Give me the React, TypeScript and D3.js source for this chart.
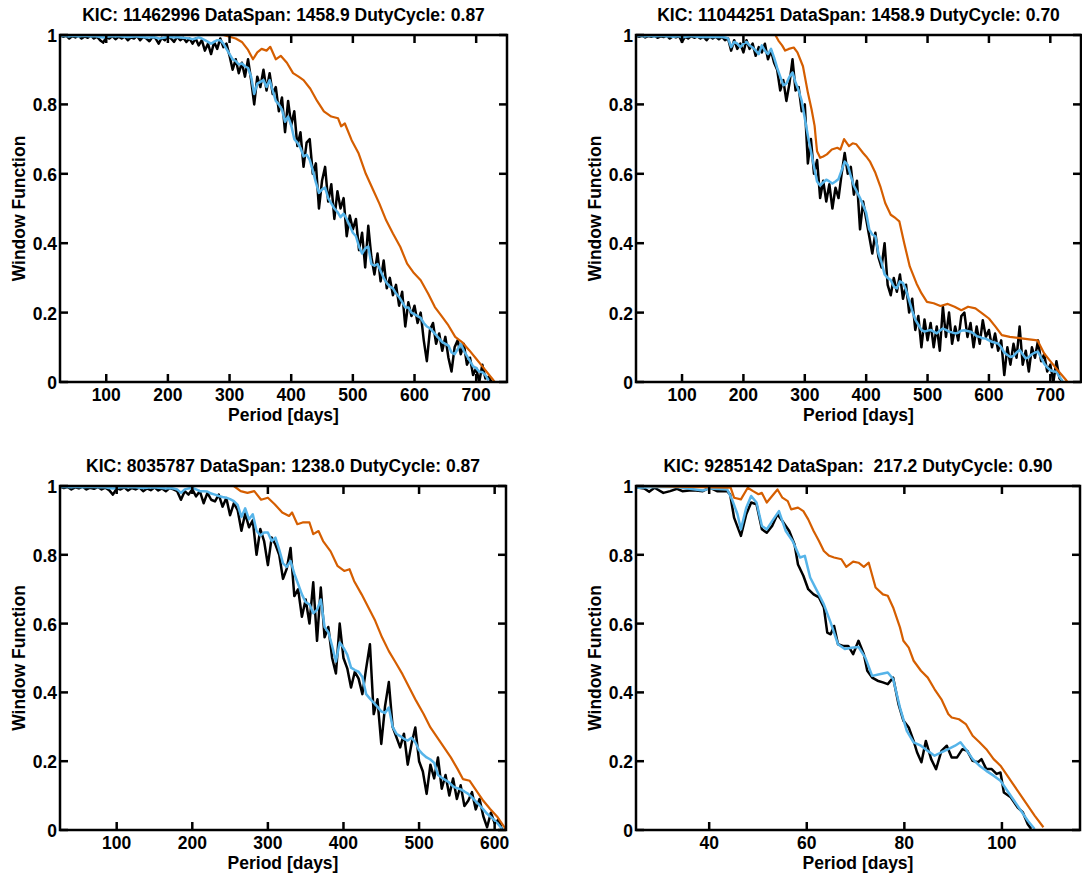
import React from "react";
import * as d3 from "d3";

type Pt = [number, number];

const FONT = "'Liberation Sans', Arial, Helvetica, sans-serif";
const BLACK = "#000000";
const BLUE = "#56B4E9";
const ORANGE = "#D55E00";

const titles = [
  "KIC: 11462996 DataSpan: 1458.9 DutyCycle: 0.87",
  "KIC: 11044251 DataSpan: 1458.9 DutyCycle: 0.70",
  "KIC: 8035787 DataSpan: 1238.0 DutyCycle: 0.87",
  "KIC: 9285142 DataSpan:  217.2 DutyCycle: 0.90",
];
const xDomains: Pt[] = [
  [25, 750],
  [25, 750],
  [25, 615],
  [25, 116],
];
const xTickSets = [
  [100, 200, 300, 400, 500, 600, 700],
  [100, 200, 300, 400, 500, 600, 700],
  [100, 200, 300, 400, 500, 600],
  [40, 60, 80, 100],
];
const yTicks = [0, 0.2, 0.4, 0.6, 0.8, 1];
const yTickLabels = ["0", "0.2", "0.4", "0.6", "0.8", "1"];
const xLabel = "Period [days]";
const yLabel = "Window Function";

// black / blue curves of the three long panels are sampled every 5 days from 25 d
const gridStart = 25;
const gridStep = 5;

// ---- KIC 11462996
const p1Black = [
  1.0, 0.995, 0.998, 0.99, 0.997, 0.993, 0.998, 0.99, 0.996, 0.992,
  0.998, 0.99, 0.995, 0.985, 0.978, 0.993, 0.99, 0.997, 0.988, 0.995,
  0.99, 0.996, 0.985, 0.993, 0.99, 0.997, 0.985, 0.995, 0.99, 0.982,
  0.995, 0.99, 0.975, 0.992, 0.985, 0.997, 0.99, 0.98, 0.995, 0.985,
  0.992, 0.98, 0.99, 0.975, 0.99, 0.97, 0.985, 0.955, 0.975, 0.945,
  0.98, 0.96, 0.99, 0.965, 0.975, 0.94, 0.9, 0.93, 0.89, 0.92,
  0.88, 0.93, 0.87, 0.8, 0.88, 0.85, 0.9, 0.84, 0.89, 0.83,
  0.85, 0.78, 0.82, 0.72, 0.81, 0.74, 0.78, 0.68, 0.72, 0.62,
  0.69, 0.7, 0.6, 0.63, 0.5, 0.58, 0.62, 0.52, 0.57, 0.47,
  0.55, 0.5, 0.53, 0.42, 0.48, 0.44, 0.47, 0.38, 0.43, 0.33,
  0.45, 0.36, 0.31, 0.37, 0.29, 0.35, 0.27, 0.3, 0.25, 0.28,
  0.22, 0.26, 0.16, 0.23, 0.19, 0.22, 0.17, 0.2, 0.12, 0.06,
  0.15, 0.17, 0.11, 0.14, 0.09, 0.13, 0.07, 0.03, 0.1, 0.12,
  0.08, 0.11, 0.05, 0.07, 0.02, 0.04, 0.0, 0.05, 0.01, 0.015,
  0.0,
];
const p1Blue = [
  0.997, 0.998, 0.997, 0.996, 0.998, 0.997, 0.996, 0.997, 0.998, 0.997,
  0.996, 0.997, 0.996, 0.994, 0.993, 0.995, 0.996, 0.997, 0.996, 0.997,
  0.996, 0.995, 0.994, 0.995, 0.996, 0.996, 0.995, 0.994, 0.993, 0.993,
  0.994, 0.993, 0.99, 0.991, 0.993, 0.995, 0.994, 0.993, 0.994, 0.993,
  0.992, 0.991, 0.99, 0.988, 0.99, 0.993, 0.99, 0.985, 0.98, 0.975,
  0.98, 0.985, 0.985, 0.975, 0.96, 0.945, 0.93, 0.925, 0.915, 0.918,
  0.91, 0.905, 0.88, 0.83, 0.86, 0.865, 0.87, 0.85, 0.87, 0.84,
  0.81, 0.8, 0.785, 0.75, 0.765, 0.74, 0.7, 0.69, 0.675, 0.65,
  0.655, 0.64, 0.61, 0.575, 0.545, 0.555, 0.56, 0.53, 0.515, 0.5,
  0.49, 0.475, 0.485, 0.47, 0.45, 0.43, 0.42, 0.39, 0.37, 0.385,
  0.39, 0.34, 0.335, 0.34, 0.32, 0.3, 0.285, 0.275, 0.27, 0.255,
  0.245, 0.23, 0.215, 0.215, 0.2, 0.195, 0.19, 0.185, 0.17, 0.16,
  0.155, 0.145, 0.135, 0.125, 0.115, 0.11, 0.105, 0.085, 0.08, 0.095,
  0.11, 0.09, 0.075, 0.06, 0.045, 0.04, 0.03, 0.028, 0.02, 0.005,
];
const p1Orange: Pt[] = [
  [25, 1], [290, 1], [300, 0.995], [310, 0.99], [320, 0.98], [330, 0.957],
  [338, 0.93], [345, 0.95], [352, 0.96], [360, 0.955], [366, 0.966], [375, 0.93],
  [383, 0.94], [393, 0.92], [403, 0.89], [412, 0.88], [420, 0.87], [431, 0.845],
  [442, 0.81], [453, 0.78], [465, 0.765], [476, 0.76], [481, 0.737], [487, 0.745],
  [498, 0.697], [509, 0.66], [521, 0.6], [532, 0.557], [543, 0.514], [554, 0.466],
  [565, 0.428], [577, 0.389], [588, 0.341], [599, 0.314], [610, 0.293], [622, 0.255],
  [633, 0.216], [644, 0.19], [655, 0.163], [666, 0.13], [677, 0.115], [689, 0.091],
  [700, 0.067], [711, 0.043], [728, 0.005], [730, 0],
];

// ---- KIC 11044251
const p2Black = [
  0.998, 0.995, 0.998, 0.993, 0.997, 0.995, 0.998, 0.992, 0.996, 0.994,
  0.998, 0.99, 0.996, 0.993, 0.997, 0.98, 0.995, 0.99, 0.997, 0.992,
  0.996, 0.99, 0.995, 0.985, 0.996, 0.99, 0.995, 0.988, 0.995, 0.985,
  0.99, 0.955, 0.985, 0.96, 0.975, 0.95, 0.985, 0.96, 0.975, 0.94,
  0.965, 0.95, 0.975, 0.93, 0.955, 0.92, 0.9, 0.84, 0.87, 0.81,
  0.86, 0.93, 0.84, 0.85, 0.78, 0.8, 0.63, 0.7, 0.6, 0.64,
  0.53, 0.58, 0.52, 0.57, 0.5, 0.56, 0.53, 0.6, 0.66, 0.6,
  0.62, 0.54, 0.58, 0.44, 0.52, 0.47, 0.42, 0.37, 0.43, 0.36,
  0.33, 0.4, 0.28, 0.25, 0.3, 0.26, 0.31, 0.24, 0.28, 0.2,
  0.24, 0.15, 0.19, 0.1, 0.18, 0.12, 0.17, 0.1, 0.16, 0.09,
  0.217, 0.13, 0.2, 0.11, 0.16, 0.12, 0.19, 0.2, 0.13, 0.17,
  0.1, 0.16, 0.11, 0.178, 0.13, 0.15, 0.1, 0.14, 0.09, 0.12,
  0.02, 0.1, 0.05, 0.11, 0.07, 0.16, 0.05, 0.09, 0.03, 0.1,
  0.07, 0.12, 0.06, 0.08, 0.03, 0.05, 0.0, 0.06, 0.01, 0.0,
];
const p2Blue = [
  0.997, 0.998, 0.997, 0.996, 0.998, 0.997, 0.996, 0.997, 0.998, 0.997,
  0.996, 0.997, 0.995, 0.996, 0.997, 0.993, 0.995, 0.996, 0.997, 0.996,
  0.995, 0.994, 0.995, 0.994, 0.995, 0.994, 0.995, 0.994, 0.994, 0.993,
  0.99, 0.965, 0.98, 0.975, 0.965, 0.975, 0.98, 0.97, 0.964, 0.955,
  0.945, 0.97, 0.955, 0.945, 0.96, 0.935, 0.905, 0.88, 0.855, 0.86,
  0.88, 0.892, 0.863, 0.84, 0.81, 0.76, 0.71, 0.665, 0.62, 0.578,
  0.566, 0.575, 0.583, 0.578, 0.572, 0.578, 0.585, 0.61, 0.635, 0.625,
  0.593, 0.565, 0.548, 0.53, 0.51, 0.488, 0.44, 0.425, 0.42, 0.37,
  0.345, 0.31, 0.3, 0.294, 0.275, 0.27, 0.29, 0.285, 0.265, 0.235,
  0.205, 0.18, 0.165, 0.15, 0.145, 0.148, 0.15, 0.145, 0.14, 0.148,
  0.154, 0.15, 0.145, 0.143, 0.14, 0.142, 0.148, 0.149, 0.147, 0.145,
  0.14, 0.132, 0.13, 0.126, 0.125, 0.12, 0.116, 0.113, 0.111, 0.1,
  0.085, 0.078, 0.072, 0.075, 0.085, 0.092, 0.08, 0.068, 0.072, 0.08,
  0.085, 0.087, 0.07, 0.053, 0.042, 0.034, 0.031, 0.029, 0.015, 0.003,
];
const p2Orange: Pt[] = [
  [25, 1], [252, 1], [257, 0.984], [263, 0.97], [268, 0.955], [274, 0.96],
  [282, 0.964], [288, 0.95], [297, 0.91], [305, 0.834], [311, 0.786], [316, 0.738],
  [318, 0.7], [320, 0.665], [325, 0.646], [330, 0.65], [336, 0.656], [344, 0.67],
  [353, 0.675], [358, 0.67], [364, 0.7], [372, 0.68], [378, 0.688], [384, 0.685],
  [395, 0.66], [400, 0.65], [406, 0.636], [415, 0.603], [423, 0.564], [431, 0.516],
  [440, 0.482], [448, 0.472], [454, 0.463], [462, 0.4], [471, 0.333], [482, 0.284],
  [490, 0.256], [499, 0.231], [510, 0.227], [521, 0.219], [533, 0.225], [544, 0.217],
  [555, 0.207], [566, 0.217], [578, 0.212], [589, 0.198], [600, 0.183], [611, 0.159],
  [621, 0.135], [634, 0.13], [656, 0.125], [679, 0.12], [690, 0.082], [701, 0.058],
  [712, 0.034], [726, 0.005], [728, 0],
];

// ---- KIC 8035787
const p3Black = [
  0.998, 0.994, 0.997, 0.99, 0.996, 0.993, 0.998, 0.99, 0.995, 0.992,
  0.997, 0.99, 0.995, 0.988, 0.975, 0.993, 0.99, 0.996, 0.987, 0.994,
  0.99, 0.996, 0.985, 0.993, 0.988, 0.996, 0.987, 0.993, 0.985, 0.994,
  0.99, 0.985, 0.96, 0.985, 0.975, 0.99, 0.97, 0.985, 0.95, 0.98,
  0.96, 0.955, 0.975, 0.94, 0.965, 0.915, 0.95, 0.93, 0.87, 0.92,
  0.88, 0.9, 0.8, 0.875, 0.84, 0.77, 0.85, 0.83, 0.8, 0.73,
  0.76, 0.82, 0.68, 0.7, 0.62, 0.67, 0.6, 0.72, 0.55, 0.705,
  0.56, 0.59, 0.5, 0.455, 0.6, 0.5, 0.47, 0.414, 0.46, 0.44,
  0.395, 0.47, 0.54, 0.337, 0.38, 0.25, 0.36, 0.43, 0.3, 0.27,
  0.24, 0.28, 0.19, 0.25, 0.298, 0.2, 0.17, 0.105, 0.19, 0.15,
  0.211, 0.12, 0.16, 0.1, 0.15, 0.09, 0.13, 0.07, 0.085, 0.11,
  0.06, 0.09, 0.04, 0.008, 0.05, 0.02, 0.03, 0.0,
];
const p3Blue = [
  0.997, 0.998, 0.997, 0.996, 0.998, 0.997, 0.996, 0.997, 0.998, 0.997,
  0.996, 0.997, 0.996, 0.994, 0.993, 0.995, 0.996, 0.997, 0.996, 0.997,
  0.996, 0.995, 0.994, 0.995, 0.996, 0.996, 0.995, 0.994, 0.993, 0.994,
  0.993, 0.99, 0.98, 0.99, 0.993, 0.995, 0.99, 0.985, 0.985, 0.984,
  0.978, 0.975, 0.971, 0.968, 0.966, 0.962, 0.956, 0.945, 0.91, 0.935,
  0.903, 0.918, 0.87, 0.856, 0.865, 0.865, 0.84, 0.85, 0.815, 0.775,
  0.765, 0.782, 0.745, 0.715, 0.685, 0.662, 0.656, 0.63, 0.64, 0.67,
  0.59, 0.575, 0.535, 0.49, 0.545, 0.53, 0.51, 0.472, 0.465, 0.46,
  0.445, 0.395, 0.382, 0.37, 0.358, 0.345, 0.34, 0.356, 0.3, 0.28,
  0.273, 0.265, 0.26, 0.268, 0.255, 0.232, 0.22, 0.211, 0.205, 0.195,
  0.16, 0.152, 0.145, 0.138, 0.127, 0.122, 0.118, 0.112, 0.105, 0.095,
  0.083, 0.072, 0.06, 0.047, 0.038, 0.028, 0.016, 0.003,
];
const p3Orange: Pt[] = [
  [25, 1], [255, 1], [264, 0.985], [273, 0.98], [282, 0.985], [291, 0.96],
  [300, 0.966], [309, 0.947], [319, 0.923], [328, 0.913], [332, 0.923], [339, 0.889],
  [346, 0.894], [355, 0.894], [360, 0.86], [367, 0.869], [373, 0.84], [383, 0.81],
  [392, 0.768], [401, 0.753], [408, 0.758], [414, 0.724], [424, 0.685], [433, 0.647],
  [442, 0.608], [451, 0.56], [460, 0.52], [469, 0.487], [478, 0.453], [487, 0.414],
  [496, 0.376], [506, 0.337], [515, 0.298], [524, 0.269], [533, 0.24], [542, 0.211],
  [551, 0.177], [558, 0.148], [567, 0.143], [576, 0.114], [585, 0.085], [594, 0.061],
  [604, 0.037], [613, 0.008], [615, 0],
];

// ---- KIC 9285142
const p4Black: Pt[] = [
  [25, 0.997], [25.6, 0.995], [26.7, 0.993], [27.7, 0.983], [28.8, 0.995], [30.6, 0.98],
  [32, 0.985], [33.4, 0.992], [34.5, 0.985], [35.9, 0.987], [37.3, 0.987], [38.7, 0.985],
  [40.1, 0.995], [41.6, 0.985], [43.7, 0.985], [44.3, 0.975], [45.1, 0.908], [46.5, 0.855],
  [47.6, 0.918], [48.6, 0.952], [49.7, 0.947], [50.8, 0.874], [51.8, 0.864], [52.9, 0.884],
  [54, 0.918], [55, 0.898], [56.4, 0.869], [57.5, 0.83], [58.2, 0.772], [59.3, 0.739],
  [60.3, 0.7], [61.4, 0.685], [62.5, 0.676], [63.5, 0.647], [64.2, 0.574], [64.9, 0.569],
  [65.6, 0.593], [66.4, 0.54], [67.4, 0.535], [68.5, 0.535], [69.5, 0.511], [70.6, 0.55],
  [71.7, 0.511], [72.4, 0.463], [73.4, 0.443], [74.5, 0.434], [75.6, 0.429], [76.6, 0.424],
  [77.7, 0.443], [78.8, 0.366], [79.8, 0.318], [80.9, 0.298], [81.9, 0.259], [82.6, 0.226],
  [83.5, 0.197], [84.4, 0.259], [85.5, 0.206], [86.5, 0.177], [87.6, 0.23], [88.7, 0.245],
  [89.7, 0.211], [90.8, 0.211], [91.9, 0.235], [92.9, 0.23], [94, 0.201], [95.1, 0.197],
  [95.8, 0.206], [96.8, 0.177], [97.9, 0.177], [98.9, 0.163], [99.7, 0.167], [100.4, 0.109],
  [101.8, 0.095], [103.2, 0.066], [104.3, 0.051], [105.3, 0.017], [106, 0.003],
];
const p4Blue: Pt[] = [
  [25, 0.997], [25.6, 0.995], [28.8, 0.997], [33.4, 0.997], [38.7, 0.987], [40.1, 0.993],
  [43.7, 0.99], [44.7, 0.96], [45.8, 0.918], [46.5, 0.874], [47.6, 0.937], [48.6, 0.971],
  [49.7, 0.952], [50.8, 0.884], [51.8, 0.874], [52.9, 0.898], [54.3, 0.927], [55.7, 0.869],
  [57.1, 0.84], [58.6, 0.792], [59.6, 0.797], [60.7, 0.734], [62.1, 0.695], [63.5, 0.656],
  [64.9, 0.603], [66.4, 0.54], [67.8, 0.526], [69.2, 0.53], [70.6, 0.532], [72, 0.501],
  [73.4, 0.448], [74.9, 0.453], [76.6, 0.458], [77.7, 0.439], [79.1, 0.356], [80.5, 0.288],
  [81.9, 0.255], [83.4, 0.245], [84.8, 0.23], [86.2, 0.216], [87.6, 0.226], [89, 0.235],
  [90.4, 0.245], [91.5, 0.255], [92.6, 0.235], [94, 0.206], [95.4, 0.187], [96.8, 0.172],
  [98.3, 0.158], [99.7, 0.143], [101.1, 0.114], [102.5, 0.085], [103.9, 0.056], [105.3, 0.027],
  [106.7, 0.003],
];
const p4Orange: Pt[] = [
  [25, 1], [44.4, 0.995], [45.1, 0.966], [46.5, 0.961], [47.9, 0.995], [49, 0.985],
  [50.1, 0.976], [50.8, 0.98], [51.8, 0.952], [52.9, 0.971], [54, 0.99], [55, 0.966],
  [56.1, 0.956], [56.8, 0.932], [58.2, 0.937], [59.3, 0.927], [60.3, 0.903], [61.4, 0.869],
  [62.5, 0.84], [63.5, 0.811], [64.6, 0.797], [65.6, 0.792], [67.1, 0.787], [68.1, 0.765],
  [69.5, 0.78], [70.6, 0.777], [71.7, 0.765], [72.7, 0.777], [74.1, 0.705], [75.6, 0.685],
  [76.6, 0.681], [77.7, 0.647], [79.1, 0.589], [79.8, 0.55], [80.9, 0.53], [81.9, 0.492],
  [83.4, 0.463], [84.8, 0.443], [86.2, 0.409], [87.6, 0.38], [89, 0.337], [89.7, 0.327],
  [91.2, 0.322], [92.6, 0.308], [94, 0.274], [95.4, 0.255], [96.8, 0.235], [98.3, 0.206],
  [99.7, 0.187], [101.1, 0.158], [102.5, 0.129], [103.9, 0.1], [105.3, 0.071], [106.7, 0.042],
  [108.5, 0.008],
];

const onGrid = (vals: number[]): Pt[] => vals.map((v, i) => [gridStart + i * gridStep, v]);

const boxes = [
  { left: 60, right: 507, top: 35, bottom: 382 },
  { left: 636, right: 1081, top: 35, bottom: 382 },
  { left: 60, right: 506, top: 486, bottom: 830 },
  { left: 636, right: 1080, top: 486, bottom: 830 },
];

const series = [
  { black: onGrid(p1Black), blue: onGrid(p1Blue), orange: p1Orange },
  { black: onGrid(p2Black), blue: onGrid(p2Blue), orange: p2Orange },
  { black: onGrid(p3Black), blue: onGrid(p3Blue), orange: p3Orange },
  { black: p4Black, blue: p4Blue, orange: p4Orange },
];

const TICK = 8;

function Panel({ i }: { i: number }) {
  const box = boxes[i];
  const x = d3.scaleLinear().domain(xDomains[i]).range([box.left, box.right]);
  const y = d3.scaleLinear().domain([0, 1]).range([box.bottom, box.top]);
  const line = d3
    .line<Pt>()
    .x((d) => x(d[0]))
    .y((d) => y(d[1]));
  const s = series[i];
  const cx = (box.left + box.right) / 2;
  const cy = (box.top + box.bottom) / 2;
  const clipId = `clip-${i}`;

  return (
    <g>
      <defs>
        <clipPath id={clipId}>
          <rect x={box.left} y={box.top} width={box.right - box.left} height={box.bottom - box.top} />
        </clipPath>
      </defs>
      <text x={cx} y={box.top - 14} textAnchor="middle" fontSize={17.5} fontWeight="bold" style={{ whiteSpace: "pre" }}>
        {titles[i]}
      </text>
      <g clipPath={`url(#${clipId})`} fill="none" strokeLinejoin="round">
        <path d={line(s.black) ?? ""} stroke={BLACK} strokeWidth={2.5} />
        <path d={line(s.blue) ?? ""} stroke={BLUE} strokeWidth={2.5} />
        <path d={line(s.orange) ?? ""} stroke={ORANGE} strokeWidth={2.2} />
      </g>
      {/* ticks, inward on all four sides */}
      <g stroke={BLACK} strokeWidth={2.5}>
        {xTickSets[i].map((t) => (
          <g key={`xt${t}`}>
            <line x1={x(t)} x2={x(t)} y1={box.bottom} y2={box.bottom - TICK} />
            <line x1={x(t)} x2={x(t)} y1={box.top} y2={box.top + TICK} />
          </g>
        ))}
        {yTicks.map((t) => (
          <g key={`yt${t}`}>
            <line x1={box.left} x2={box.left + TICK} y1={y(t)} y2={y(t)} />
            <line x1={box.right} x2={box.right - TICK} y1={y(t)} y2={y(t)} />
          </g>
        ))}
      </g>
      <rect
        x={box.left}
        y={box.top}
        width={box.right - box.left}
        height={box.bottom - box.top}
        fill="none"
        stroke={BLACK}
        strokeWidth={2.5}
      />
      <g fontSize={17.5} fontWeight="bold">
        {xTickSets[i].map((t) => (
          <text key={`xl${t}`} x={x(t)} y={box.bottom + 19} textAnchor="middle">
            {t}
          </text>
        ))}
        {yTicks.map((t, k) => (
          <text key={`yl${t}`} x={box.left - 3} y={y(t) + 7} textAnchor="end">
            {yTickLabels[k]}
          </text>
        ))}
        <text x={cx} y={box.bottom + 39} textAnchor="middle">
          {xLabel}
        </text>
        <text transform={`translate(${box.left - 35},${cy}) rotate(-90)`} textAnchor="middle">
          {yLabel}
        </text>
      </g>
    </g>
  );
}

export default function App() {
  return (
    <svg
      width={1082}
      height={875}
      style={{ position: "absolute", left: 0, top: 0, background: "#fff" }}
      fontFamily={FONT}
    >
      {[0, 1, 2, 3].map((i) => (
        <Panel key={i} i={i} />
      ))}
    </svg>
  );
}
